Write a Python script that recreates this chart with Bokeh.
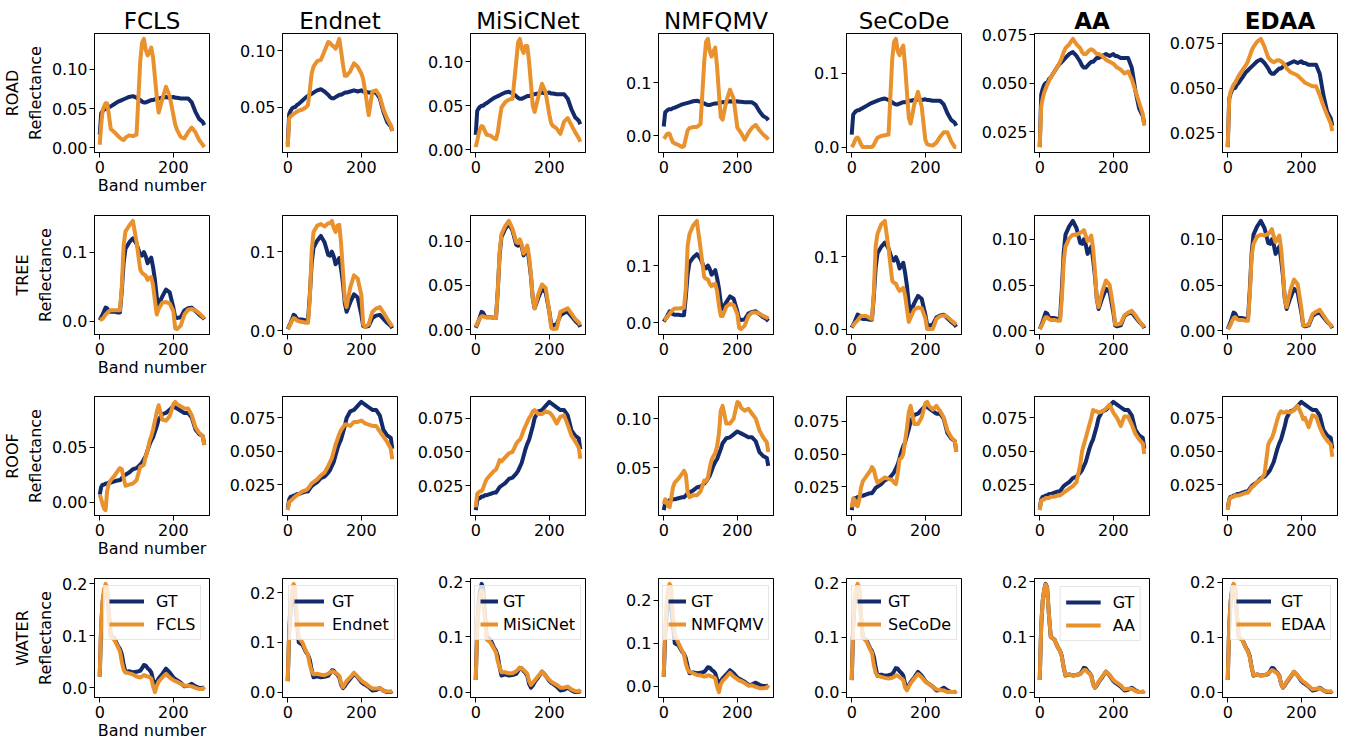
from bokeh.plotting import figure
from bokeh.layouts import column, row
from bokeh.models import Range1d, FixedTicker, PrintfTickFormatter, Legend, LegendItem
from bokeh.embed import file_html
from bokeh.resources import INLINE

# ---------------- data ----------------
bands = [0, 4, 8, 12, 16, 20, 25, 30, 40, 50, 55, 60, 65, 70, 80, 90, 100, 110, 115, 120,
         125, 130, 135, 140, 145, 150, 155, 160, 170, 180, 190, 200, 205, 210, 220, 230,
         240, 250, 260, 270, 280, 284]

methods = ["FCLS", "Endnet", "MiSiCNet", "NMFQMV", "SeCoDe", "AA", "EDAA"]
materials = ["ROAD", "TREE", "ROOF", "WATER"]
x_ticks = [0, 200]

# ROAD
gt_road = [0.017, 0.044, 0.047, 0.049, 0.050, 0.050, 0.052, 0.053, 0.056, 0.059, 0.060, 0.061, 0.062, 0.063, 0.065, 0.066, 0.064, 0.061, 0.059, 0.058, 0.058, 0.059, 0.060, 0.061, 0.061, 0.062, 0.063, 0.063, 0.064, 0.065, 0.064, 0.065, 0.064, 0.064, 0.063, 0.063, 0.063, 0.058, 0.046, 0.037, 0.033, 0.029]
fcls_road = [0.004, 0.030, 0.048, 0.053, 0.057, 0.057, 0.042, 0.024, 0.020, 0.015, 0.013, 0.011, 0.010, 0.013, 0.016, 0.015, 0.017, 0.110, 0.134, 0.139, 0.125, 0.118, 0.122, 0.128, 0.115, 0.090, 0.065, 0.045, 0.062, 0.078, 0.066, 0.042, 0.030, 0.023, 0.014, 0.012, 0.020, 0.026, 0.020, 0.010, 0.004, 0.001]
endnet_road = [0.0146, 0.040, 0.042, 0.043, 0.044, 0.045, 0.046, 0.047, 0.048, 0.050, 0.052, 0.065, 0.080, 0.086, 0.091, 0.092, 0.100, 0.108, 0.107, 0.105, 0.104, 0.102, 0.106, 0.1107, 0.100, 0.088, 0.078, 0.078, 0.082, 0.089, 0.086, 0.080, 0.075, 0.065, 0.043, 0.064, 0.065, 0.060, 0.048, 0.040, 0.034, 0.029]
misicnet_road = [0.003, 0.010, 0.018, 0.024, 0.027, 0.026, 0.021, 0.017, 0.016, 0.013, 0.012, 0.020, 0.035, 0.048, 0.054, 0.057, 0.058, 0.100, 0.122, 0.126, 0.115, 0.110, 0.118, 0.118, 0.100, 0.075, 0.050, 0.043, 0.060, 0.075, 0.065, 0.040, 0.030, 0.027, 0.024, 0.018, 0.032, 0.036, 0.028, 0.020, 0.013, 0.009]
nmfqmv_road = [-0.006, -0.003, 0.002, 0.004, 0.003, -0.005, -0.013, -0.015, -0.018, -0.022, -0.020, -0.005, 0.010, 0.014, 0.016, 0.016, 0.022, 0.140, 0.178, 0.1835, 0.160, 0.150, 0.160, 0.167, 0.130, 0.080, 0.035, 0.030, 0.065, 0.087, 0.070, 0.015, 0.010, 0.005, -0.008, 0.005, 0.015, 0.020, 0.010, 0.002, -0.004, -0.008]
secode_road = [0.000, 0.003, 0.008, 0.012, 0.013, 0.010, 0.004, 0.000, 0.000, 0.000, 0.000, 0.003, 0.008, 0.013, 0.015, 0.016, 0.017, 0.120, 0.143, 0.147, 0.130, 0.125, 0.133, 0.138, 0.110, 0.075, 0.040, 0.032, 0.058, 0.075, 0.055, 0.010, 0.004, 0.003, 0.002, 0.006, 0.014, 0.020, 0.020, 0.008, 0.000, 0.000]
aa_road = [0.017, 0.038, 0.042, 0.045, 0.047, 0.049, 0.051, 0.053, 0.056, 0.059, 0.061, 0.063, 0.066, 0.068, 0.070, 0.0728, 0.070, 0.068, 0.066, 0.065, 0.065, 0.066, 0.067, 0.0675, 0.067, 0.066, 0.065, 0.065, 0.064, 0.062, 0.061, 0.060, 0.059, 0.058, 0.057, 0.055, 0.056, 0.052, 0.046, 0.040, 0.034, 0.028]
edaa_road = [0.017, 0.044, 0.048, 0.050, 0.052, 0.053, 0.055, 0.057, 0.060, 0.063, 0.065, 0.068, 0.071, 0.073, 0.076, 0.0775, 0.073, 0.067, 0.066, 0.065, 0.0645, 0.065, 0.0655, 0.0655, 0.065, 0.064, 0.063, 0.061, 0.059, 0.058, 0.057, 0.055, 0.054, 0.053, 0.052, 0.051, 0.051, 0.046, 0.040, 0.035, 0.030, 0.026]

# TREE
gt_tree = [0.002, 0.006, 0.010, 0.015, 0.020, 0.019, 0.015, 0.014, 0.014, 0.013, 0.013, 0.045, 0.085, 0.105, 0.114, 0.120, 0.112, 0.096, 0.095, 0.100, 0.094, 0.084, 0.088, 0.092, 0.078, 0.060, 0.035, 0.024, 0.036, 0.046, 0.042, 0.020, 0.006, 0.005, 0.006, 0.016, 0.019, 0.020, 0.015, 0.010, 0.006, 0.003]
fcls_tree = [0.003, 0.003, 0.004, 0.007, 0.010, 0.012, 0.015, 0.016, 0.016, 0.016, 0.016, 0.050, 0.110, 0.130, 0.138, 0.145, 0.115, 0.075, 0.070, 0.068, 0.066, 0.060, 0.063, 0.064, 0.052, 0.030, 0.010, 0.018, 0.027, 0.028, 0.026, 0.015, -0.010, -0.011, -0.006, 0.010, 0.017, 0.018, 0.016, 0.012, 0.007, 0.004]
endnet_tree = [0.002, 0.005, 0.009, 0.013, 0.016, 0.015, 0.013, 0.012, 0.011, 0.010, 0.010, 0.040, 0.100, 0.125, 0.133, 0.135, 0.132, 0.136, 0.136, 0.139, 0.130, 0.125, 0.133, 0.134, 0.110, 0.075, 0.040, 0.030, 0.055, 0.070, 0.066, 0.045, 0.008, 0.005, 0.008, 0.024, 0.028, 0.030, 0.023, 0.015, 0.008, 0.005]
misicnet_tree = [0.003, 0.007, 0.010, 0.013, 0.015, 0.015, 0.014, 0.014, 0.014, 0.013, 0.013, 0.045, 0.088, 0.108, 0.117, 0.123, 0.114, 0.099, 0.098, 0.102, 0.096, 0.086, 0.090, 0.095, 0.082, 0.062, 0.035, 0.024, 0.040, 0.051, 0.047, 0.020, 0.002, 0.0005, 0.001, 0.020, 0.022, 0.024, 0.018, 0.012, 0.008, 0.005]
nmfqmv_tree = [0.005, 0.006, 0.009, 0.012, 0.016, 0.019, 0.023, 0.025, 0.025, 0.026, 0.026, 0.060, 0.135, 0.155, 0.170, 0.178, 0.130, 0.080, 0.077, 0.076, 0.068, 0.064, 0.067, 0.068, 0.055, 0.030, 0.012, 0.012, 0.028, 0.033, 0.031, 0.015, -0.009, -0.011, -0.005, 0.012, 0.018, 0.018, 0.016, 0.012, 0.009, 0.007]
secode_tree = [0.003, 0.005, 0.008, 0.010, 0.012, 0.015, 0.018, 0.018, 0.018, 0.015, 0.014, 0.050, 0.115, 0.132, 0.145, 0.150, 0.112, 0.067, 0.064, 0.063, 0.057, 0.053, 0.055, 0.057, 0.047, 0.028, 0.010, 0.016, 0.027, 0.030, 0.029, 0.015, 0.000, 0.000, 0.000, 0.014, 0.018, 0.019, 0.017, 0.012, 0.008, 0.006]
aa_tree = [0.002, 0.005, 0.008, 0.012, 0.015, 0.015, 0.013, 0.012, 0.012, 0.011, 0.011, 0.035, 0.075, 0.092, 0.101, 0.105, 0.105, 0.107, 0.108, 0.110, 0.104, 0.098, 0.100, 0.104, 0.090, 0.065, 0.035, 0.026, 0.043, 0.055, 0.050, 0.025, 0.007, 0.007, 0.008, 0.017, 0.020, 0.022, 0.017, 0.011, 0.006, 0.004]
edaa_tree = [0.002, 0.004, 0.007, 0.011, 0.014, 0.015, 0.013, 0.012, 0.012, 0.011, 0.011, 0.040, 0.082, 0.095, 0.103, 0.105, 0.104, 0.106, 0.108, 0.111, 0.103, 0.097, 0.100, 0.104, 0.090, 0.065, 0.035, 0.026, 0.044, 0.056, 0.051, 0.025, 0.006, 0.006, 0.007, 0.018, 0.021, 0.023, 0.017, 0.011, 0.006, 0.004]

# ROOF
gt_roof = [0.007, 0.014, 0.016, 0.016, 0.017, 0.017, 0.018, 0.018, 0.019, 0.020, 0.020, 0.022, 0.024, 0.025, 0.027, 0.030, 0.031, 0.034, 0.036, 0.039, 0.042, 0.047, 0.052, 0.056, 0.059, 0.064, 0.069, 0.075, 0.080, 0.081, 0.084, 0.087, 0.086, 0.085, 0.083, 0.081, 0.081, 0.077, 0.066, 0.062, 0.060, 0.052]
fcls_roof = [0.007, 0.003, -0.002, -0.006, -0.007, 0.010, 0.017, 0.020, 0.024, 0.029, 0.031, 0.030, 0.022, 0.015, 0.016, 0.017, 0.020, 0.032, 0.033, 0.034, 0.042, 0.047, 0.055, 0.060, 0.066, 0.074, 0.082, 0.088, 0.075, 0.074, 0.078, 0.089, 0.091, 0.089, 0.087, 0.085, 0.085, 0.079, 0.068, 0.063, 0.060, 0.052]
endnet_roof = [0.006, 0.012, 0.013, 0.014, 0.015, 0.016, 0.017, 0.018, 0.020, 0.021, 0.022, 0.024, 0.026, 0.027, 0.029, 0.032, 0.034, 0.039, 0.042, 0.045, 0.050, 0.055, 0.059, 0.063, 0.066, 0.068, 0.070, 0.070, 0.069, 0.072, 0.072, 0.073, 0.072, 0.071, 0.070, 0.069, 0.069, 0.065, 0.061, 0.057, 0.052, 0.044]
misicnet_roof = [0.009, 0.019, 0.020, 0.021, 0.021, 0.023, 0.027, 0.030, 0.033, 0.036, 0.037, 0.040, 0.044, 0.043, 0.046, 0.049, 0.050, 0.056, 0.058, 0.059, 0.062, 0.066, 0.069, 0.072, 0.075, 0.077, 0.080, 0.081, 0.078, 0.078, 0.080, 0.079, 0.078, 0.076, 0.071, 0.076, 0.077, 0.070, 0.062, 0.058, 0.053, 0.045]
nmfqmv_roof = [0.013, 0.018, 0.016, 0.011, 0.010, 0.018, 0.030, 0.035, 0.039, 0.044, 0.047, 0.043, 0.025, 0.020, 0.022, 0.022, 0.026, 0.037, 0.036, 0.040, 0.050, 0.058, 0.062, 0.065, 0.072, 0.085, 0.108, 0.113, 0.095, 0.095, 0.100, 0.117, 0.116, 0.111, 0.108, 0.110, 0.105, 0.100, 0.088, 0.081, 0.076, 0.066]
secode_roof = [0.009, 0.016, 0.015, 0.011, 0.010, 0.014, 0.024, 0.029, 0.033, 0.037, 0.040, 0.038, 0.032, 0.028, 0.030, 0.032, 0.031, 0.030, 0.028, 0.027, 0.035, 0.046, 0.047, 0.050, 0.060, 0.070, 0.082, 0.087, 0.073, 0.073, 0.078, 0.089, 0.090, 0.087, 0.084, 0.087, 0.083, 0.078, 0.068, 0.063, 0.060, 0.052]
aa_roof = [0.006, 0.013, 0.014, 0.014, 0.015, 0.015, 0.015, 0.016, 0.016, 0.017, 0.017, 0.018, 0.019, 0.020, 0.022, 0.024, 0.027, 0.040, 0.050, 0.055, 0.060, 0.065, 0.070, 0.075, 0.081, 0.080, 0.080, 0.079, 0.080, 0.082, 0.085, 0.079, 0.077, 0.075, 0.069, 0.076, 0.076, 0.070, 0.063, 0.059, 0.056, 0.048]
edaa_roof = [0.006, 0.014, 0.015, 0.016, 0.016, 0.017, 0.017, 0.017, 0.018, 0.019, 0.019, 0.021, 0.023, 0.024, 0.027, 0.029, 0.033, 0.055, 0.058, 0.060, 0.064, 0.069, 0.074, 0.078, 0.080, 0.079, 0.079, 0.080, 0.079, 0.081, 0.084, 0.078, 0.074, 0.075, 0.068, 0.077, 0.076, 0.068, 0.062, 0.058, 0.055, 0.046]

# WATER
gt_water = [0.022, 0.120, 0.165, 0.185, 0.196, 0.190, 0.140, 0.100, 0.095, 0.080, 0.075, 0.065, 0.045, 0.030, 0.032, 0.030, 0.031, 0.033, 0.038, 0.044, 0.043, 0.038, 0.035, 0.030, 0.015, 0.008, 0.012, 0.018, 0.027, 0.037, 0.030, 0.020, 0.017, 0.015, 0.010, 0.003, 0.004, 0.008, 0.003, 0.000, 0.000, 0.002]
fcls_water = [0.022, 0.125, 0.170, 0.190, 0.200, 0.193, 0.140, 0.100, 0.092, 0.078, 0.070, 0.050, 0.035, 0.030, 0.028, 0.026, 0.022, 0.020, 0.022, 0.025, 0.023, 0.022, 0.021, 0.018, 0.003, -0.008, 0.004, 0.012, 0.020, 0.027, 0.020, 0.015, 0.013, 0.012, 0.008, 0.004, 0.004, 0.003, 0.000, -0.002, -0.002, 0.002]
endnet_water = [0.022, 0.130, 0.180, 0.205, 0.218, 0.210, 0.150, 0.110, 0.100, 0.082, 0.075, 0.055, 0.042, 0.036, 0.037, 0.035, 0.034, 0.037, 0.040, 0.042, 0.041, 0.039, 0.036, 0.033, 0.018, 0.010, 0.016, 0.022, 0.030, 0.039, 0.031, 0.023, 0.020, 0.018, 0.012, 0.007, 0.007, 0.008, 0.003, 0.001, 0.001, 0.002]
misicnet_water = [0.022, 0.110, 0.155, 0.175, 0.184, 0.180, 0.130, 0.095, 0.090, 0.078, 0.072, 0.055, 0.045, 0.036, 0.036, 0.034, 0.034, 0.038, 0.041, 0.044, 0.043, 0.040, 0.037, 0.033, 0.020, 0.013, 0.017, 0.021, 0.029, 0.037, 0.029, 0.022, 0.019, 0.017, 0.013, 0.008, 0.008, 0.010, 0.005, 0.002, 0.001, 0.005]
nmfqmv_water = [0.022, 0.140, 0.195, 0.225, 0.238, 0.230, 0.165, 0.120, 0.100, 0.082, 0.074, 0.052, 0.038, 0.033, 0.030, 0.026, 0.025, 0.022, 0.023, 0.025, 0.024, 0.022, 0.021, 0.018, -0.002, -0.014, 0.004, 0.012, 0.021, 0.031, 0.022, 0.016, 0.013, 0.012, 0.007, 0.001, 0.002, -0.002, -0.005, -0.005, -0.004, 0.002]
secode_water = [0.022, 0.125, 0.170, 0.190, 0.198, 0.192, 0.140, 0.100, 0.093, 0.078, 0.072, 0.050, 0.035, 0.030, 0.028, 0.026, 0.025, 0.026, 0.028, 0.031, 0.030, 0.027, 0.025, 0.022, 0.008, 0.003, 0.010, 0.016, 0.025, 0.033, 0.027, 0.019, 0.017, 0.015, 0.010, 0.005, 0.004, 0.003, 0.000, 0.000, 0.000, 0.002]
aa_water = [0.022, 0.120, 0.165, 0.185, 0.195, 0.189, 0.140, 0.100, 0.095, 0.080, 0.075, 0.064, 0.045, 0.031, 0.032, 0.030, 0.031, 0.033, 0.036, 0.040, 0.040, 0.036, 0.034, 0.029, 0.015, 0.008, 0.013, 0.019, 0.028, 0.037, 0.031, 0.022, 0.019, 0.017, 0.012, 0.005, 0.006, 0.006, 0.002, 0.000, 0.000, 0.003]
edaa_water = [0.022, 0.122, 0.168, 0.188, 0.197, 0.190, 0.140, 0.100, 0.095, 0.079, 0.074, 0.063, 0.045, 0.031, 0.032, 0.030, 0.031, 0.034, 0.037, 0.040, 0.039, 0.036, 0.034, 0.029, 0.015, 0.008, 0.013, 0.019, 0.028, 0.037, 0.030, 0.022, 0.019, 0.017, 0.011, 0.005, 0.006, 0.007, 0.003, 0.001, 0.001, 0.003]

# y tick labels per subplot (one list per method, in method order)
road_yticks = [["0.00", "0.05", "0.10"], ["0.05", "0.10"], ["0.00", "0.05", "0.10"], ["0.0", "0.1"],
               ["0.0", "0.1"], ["0.025", "0.050", "0.075"], ["0.025", "0.050", "0.075"]]
tree_yticks = [["0.0", "0.1"], ["0.0", "0.1"], ["0.00", "0.05", "0.10"], ["0.0", "0.1"],
               ["0.0", "0.1"], ["0.00", "0.05", "0.10"], ["0.00", "0.05", "0.10"]]
roof_yticks = [["0.00", "0.05"], ["0.025", "0.050", "0.075"], ["0.025", "0.050", "0.075"], ["0.05", "0.10"],
               ["0.025", "0.050", "0.075"], ["0.025", "0.050", "0.075"], ["0.025", "0.050", "0.075"]]
water_yticks = [["0.0", "0.1", "0.2"]] * 7

gt_spectra = {"ROAD": gt_road, "TREE": gt_tree, "ROOF": gt_roof, "WATER": gt_water}
est_spectra = {
    "ROAD": [fcls_road, endnet_road, misicnet_road, nmfqmv_road, secode_road, aa_road, edaa_road],
    "TREE": [fcls_tree, endnet_tree, misicnet_tree, nmfqmv_tree, secode_tree, aa_tree, edaa_tree],
    "ROOF": [fcls_roof, endnet_roof, misicnet_roof, nmfqmv_roof, secode_roof, aa_roof, edaa_roof],
    "WATER": [fcls_water, endnet_water, misicnet_water, nmfqmv_water, secode_water, aa_water, edaa_water],
}
y_tick_labels = {"ROAD": road_yticks, "TREE": tree_yticks, "ROOF": roof_yticks, "WATER": water_yticks}

# ---------------- style ----------------
GT_COLOR = "#132a6b"
EST_COLOR = "#e8912d"
FONT = "DejaVu Sans"
FW, FH = 115, 119
LW = 4
ROW_TOP = [33, 10, 10, 10]
ROW_BOTTOM = [53, 52, 53, 46]

# legend layout per method: (x offset from frame left, glyph width, label standoff)
LEG_STYLE = {"FCLS": (9, 35, 12), "Endnet": (6, 30, 8), "MiSiCNet": (4, 18, 5),
             "NMFQMV": (4, 18, 5), "SeCoDe": (5, 24, 7), "AA": (None, 35, 12),
             "EDAA": (8, 35, 10)}
LEG_PAD, LEG_SPACING, LEG_ITEM_H = 5, 3, 20
LEG_H = 2 * LEG_PAD + 2 * LEG_ITEM_H + LEG_SPACING

n_b = bands[-1]
x_pad = 0.05 * n_b

rows_out = []
for r, mat in enumerate(materials):
    figs = []
    last_row = (r == len(materials) - 1)
    for c, m in enumerate(methods):
        gt = gt_spectra[mat]
        est = est_spectra[mat][c]
        lo = min(min(gt), min(est))
        hi = max(max(gt), max(est))
        pad = 0.05 * (hi - lo)

        left = 94 if c == 0 else (40 if last_row else 56)
        if c == len(methods) - 1:
            right = 10
        else:
            right = 33 if last_row else 17

        p = figure(frame_width=FW, frame_height=FH,
                   x_range=Range1d(-x_pad, n_b + x_pad),
                   y_range=Range1d(lo - pad, hi + pad),
                   toolbar_location=None, output_backend="svg",
                   min_border_left=left, min_border_right=right,
                   min_border_top=ROW_TOP[r], min_border_bottom=ROW_BOTTOM[r],
                   title=(m if r == 0 else None))
        if r == 0:
            p.title.text_font = FONT
            p.title.text_font_size = "23px"
            p.title.text_font_style = "bold" if m in ("AA", "EDAA") else "normal"
            p.title.align = "center"
            p.title.text_color = "black"
            p.title.standoff = 0

        p.xgrid.visible = False
        p.ygrid.visible = False
        p.outline_line_color = "black"
        p.outline_line_width = 1
        p.outline_line_alpha = 1
        p.background_fill_color = "white"
        p.border_fill_color = "white"

        labels = y_tick_labels[mat][c]
        decimals = len(labels[0].split(".")[1])
        p.yaxis.ticker = FixedTicker(ticks=[float(s) for s in labels])
        p.yaxis.formatter = PrintfTickFormatter(format="%%.%df" % decimals)
        p.xaxis.ticker = FixedTicker(ticks=x_ticks)

        for ax in (p.xaxis[0], p.yaxis[0]):
            ax.major_label_text_font = FONT
            ax.major_label_text_font_size = "16px"
            ax.major_label_text_color = "black"
            ax.axis_line_color = "black"
            ax.major_tick_line_color = "black"
            ax.major_tick_out = 5
            ax.major_tick_in = 0
            ax.minor_tick_line_color = None
            ax.axis_label_text_font = FONT
            ax.axis_label_text_font_size = "16px"
            ax.axis_label_text_font_style = "normal"
            ax.axis_label_text_color = "black"
        p.xaxis.major_label_standoff = 3
        p.yaxis.major_label_standoff = 2
        p.xaxis.axis_label_standoff = 0
        p.yaxis.axis_label_standoff = 4

        if c == 0:
            p.xaxis.axis_label = "Band number"
            p.yaxis.axis_label = mat + "\nReflectance"

        r_gt = p.line(bands, gt, line_color=GT_COLOR, line_width=LW, line_join="round")
        r_est = p.line(bands, est, line_color=EST_COLOR, line_width=LW, line_join="round")

        if last_row:
            lx, gw, ls = LEG_STYLE[m]
            if lx is None:
                loc = "top_right"
            else:
                loc = (lx, FH - 9 - LEG_H)
            leg = Legend(items=[LegendItem(label="GT", renderers=[r_gt]),
                                LegendItem(label=m, renderers=[r_est])],
                         location=loc, margin=8,
                         padding=LEG_PAD, spacing=LEG_SPACING,
                         glyph_width=gw, glyph_height=LEG_ITEM_H, label_height=LEG_ITEM_H,
                         label_standoff=ls,
                         label_text_font=FONT, label_text_font_size="16px",
                         label_text_color="black",
                         border_line_color="#cccccc", border_line_width=1,
                         background_fill_color="white", background_fill_alpha=0.8)
            p.add_layout(leg)
        figs.append(p)
    rows_out.append(row(*figs))

layout = column(*rows_out)
open("out.html", "w").write(file_html(layout, INLINE))
